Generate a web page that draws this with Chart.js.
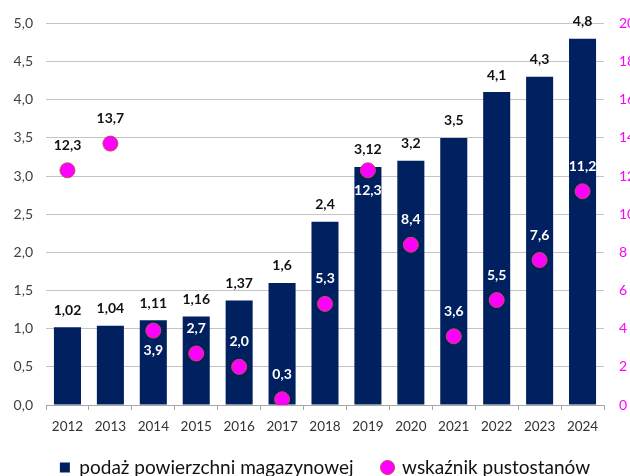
<!DOCTYPE html>
<html>
<head>
<meta charset="utf-8">
<script src="https://cdn.jsdelivr.net/npm/chart.js@4/dist/chart.umd.min.js"></script>
<style>
  html, body { margin: 0; padding: 0; background: #ffffff; overflow: hidden; }
  #wrap { width: 630px; height: 476px; }
</style>
</head>
<body>
<div id="wrap"><canvas id="chart" width="630" height="476"></canvas></div>
<script>
// Years on the category axis
const years = ['2012', '2013', '2014', '2015', '2016', '2017', '2018', '2019', '2020', '2021', '2022', '2023', '2024'];
// Warehouse stock (left axis)
const supply = [1.02, 1.04, 1.11, 1.16, 1.37, 1.6, 2.4, 3.12, 3.2, 3.5, 4.1, 4.3, 4.8];
// Vacancy rate (right axis)
const vacancy = [12.3, 13.7, 3.9, 2.7, 2.0, 0.3, 5.3, 12.3, 8.4, 3.6, 5.5, 7.6, 11.2];
// Axis ranges
const leftTicks = { min: 0, max: 5, step: 0.5 };
const rightTicks = { min: 0, max: 20, step: 2 };
// Years whose vacancy label sits under its marker
const vacancyLabelBelow = ['2014', '2019'];

const FONT = 'Lato, "Open Sans", sans-serif';
const NAVY = '#002060';
const MAGENTA = '#ff00ff';
const DOT_EDGE = '#c0504d';

const comma = (s) => String(s).replace('.', ',');

// Value labels above bars and next to markers
const valueLabels = {
  id: 'valueLabels',
  afterDatasetsDraw(chart) {
    const ctx = chart.ctx;
    const barMeta = chart.getDatasetMeta(0);
    const dotMeta = chart.getDatasetMeta(1);
    ctx.save();
    ctx.font = 'bold 14px ' + FONT;
    ctx.textAlign = 'center';
    ctx.textBaseline = 'middle';
    barMeta.data.forEach((bar, i) => {
      ctx.fillStyle = '#111111';
      ctx.fillText(comma(supply[i]), bar.x, bar.y - 17);
    });
    dotMeta.data.forEach((pt, i) => {
      const below = vacancyLabelBelow.includes(years[i]);
      const y = below ? pt.y + 20 : pt.y - 25;
      const bar = barMeta.data[i];
      const inside = y > bar.y + 4;
      ctx.fillStyle = inside ? '#ffffff' : '#111111';
      ctx.fillText(vacancy[i].toFixed(1).replace('.', ','), pt.x, y);
    });
    ctx.restore();
  }
};

// Nudge the legend row a little right and up after layout
const legendNudge = {
  id: 'legendNudge',
  afterLayout(chart) {
    const lg = chart.legend;
    if (!lg) return;
    const dx = 10, dy = -8;
    lg.left += dx; lg.right += dx;
    lg.top += dy; lg.bottom += dy;
  }
};

new Chart(document.getElementById('chart'), {
  data: {
    labels: years,
    datasets: [
      {
        type: 'bar',
        label: 'podaż powierzchni magazynowej',
        data: supply,
        backgroundColor: NAVY,
        borderWidth: 0,
        yAxisID: 'y',
        categoryPercentage: 1,
        barPercentage: 0.63,
        order: 2
      },
      {
        type: 'line',
        label: 'wskaźnik pustostanów',
        data: vacancy,
        showLine: false,
        yAxisID: 'y2',
        pointRadius: 7.5,
        pointHoverRadius: 7.5,
        pointBackgroundColor: MAGENTA,
        pointBorderColor: DOT_EDGE,
        pointBorderWidth: 1,
        backgroundColor: MAGENTA,
        borderColor: MAGENTA,
        pointStyle: 'circle',
        order: 1
      }
    ]
  },
  options: {
    responsive: false,
    devicePixelRatio: 1,
    animation: false,
    layout: { padding: { top: 21, left: 0, right: 0, bottom: -19 } },
    plugins: {
      tooltip: { enabled: false },
      legend: {
        position: 'bottom',
        labels: {
          usePointStyle: true,
          boxWidth: 10,
          boxHeight: 10,
          font: { family: FONT, size: 19 },
          color: '#111111',
          padding: 29,
          generateLabels(chart) {
            return chart.data.datasets.map((ds, i) => ({
              text: ds.label,
              fillStyle: i === 0 ? NAVY : MAGENTA,
              strokeStyle: i === 0 ? NAVY : DOT_EDGE,
              lineWidth: i === 0 ? 0 : 1,
              pointStyle: i === 0 ? 'rect' : 'circle',
              fontColor: '#111111',
              datasetIndex: i,
              hidden: false
            }));
          }
        }
      }
    },
    scales: {
      x: {
        offset: true,
        grid: { offset: true, drawOnChartArea: false, drawTicks: true, tickLength: 5, color: '#a6a6a6' },
        border: { color: '#a6a6a6' },
        ticks: { font: { family: FONT, size: 13.5 }, color: '#333333', padding: 9, maxRotation: 0 },
        afterFit(s) { s.height = 32; }
      },
      y: {
        position: 'left',
        min: leftTicks.min,
        max: leftTicks.max,
        ticks: {
          stepSize: leftTicks.step,
          font: { family: FONT, size: 14 },
          color: '#404040',
          padding: 13,
          callback: (v) => v.toFixed(1).replace('.', ',')
        },
        grid: { color: '#c4c4c4', drawTicks: false },
        border: { display: false },
        afterFit(s) { s.width = 46; }
      },
      y2: {
        position: 'right',
        min: rightTicks.min,
        max: rightTicks.max,
        ticks: {
          stepSize: rightTicks.step,
          font: { family: FONT, size: 14 },
          color: MAGENTA,
          padding: 15
        },
        grid: { display: false, drawOnChartArea: false, drawTicks: false },
        border: { display: false },
        afterFit(s) { s.width = 26; }
      }
    }
  },
  plugins: [valueLabels, legendNudge]
});
</script>
</body>
</html>
